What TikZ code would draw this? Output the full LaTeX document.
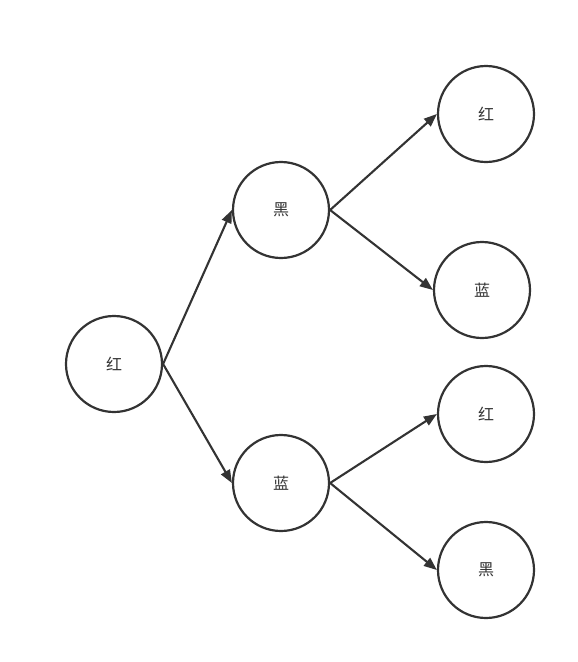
\documentclass[tikz,border=0pt]{standalone}
\usepackage{fontspec}
\newfontfamily\cjk{Noto Sans CJK SC}
\usepackage{tikz}
\usetikzlibrary{arrows.meta, positioning}
\definecolor{linegray}{RGB}{51, 51, 51}

\begin{document}
\begin{tikzpicture}[x=1pt, y=-1pt,
  ball/.style={circle, draw=linegray, line width=2.2pt, minimum size=96pt, inner sep=0pt, font=\cjk\fontsize{16}{18}\selectfont, text=linegray},
  edge/.style={draw=linegray, line width=2.1pt, -{Triangle[length=13pt, width=10pt]}}]

\useasboundingbox (0, 0) rectangle (578, 662);

% Root
\node[ball] (root) at (114, 364) {红};

% Second level
\node[ball] (midblack) at (281, 210) {黑};
\node[ball] (midblue)  at (281, 483) {蓝};

% Third level
\node[ball] (topred)   at (486, 114) {红};
\node[ball] (topblue)  at (482, 290) {蓝};
\node[ball] (lowred)   at (486, 414) {红};
\node[ball] (lowblack) at (486, 570) {黑};

% Edges
\draw[edge] (root.east) -- (midblack.west);
\draw[edge] (root.east) -- (midblue.west);
\draw[edge] (midblack.east) -- (topred.west);
\draw[edge] (midblack.east) -- (topblue.west);
\draw[edge] (midblue.east) -- (lowred.west);
\draw[edge] (midblue.east) -- (lowblack.west);

\end{tikzpicture}
\end{document}
